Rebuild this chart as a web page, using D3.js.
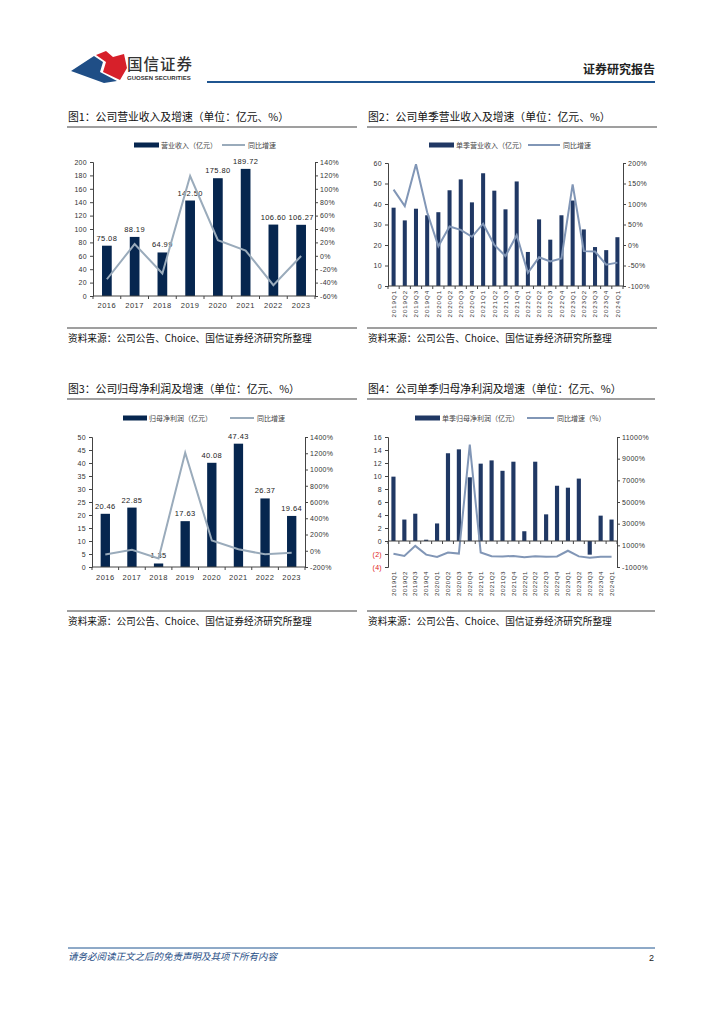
<!DOCTYPE html>
<html>
<head>
<meta charset="utf-8">
<script src="https://cdn.jsdelivr.net/npm/d3@7"></script>
<style>
  body { margin: 0; background: #fff; }
  svg text { font-family: "Liberation Sans", Arial, "Noto Sans CJK SC", sans-serif; }
  .cn { font-family: "Noto Sans CJK SC", sans-serif; }
</style>
</head>
<body>
<svg id="page" width="724" height="1024"></svg>
<script>
// chart 1: annual revenue
const years = ["2016", "2017", "2018", "2019", "2020", "2021", "2022", "2023"];
const revenue = [75.08, 88.19, 64.99, 142.50, 175.80, 189.72, 106.60, 106.27];
const revenueYoY = [-35, 17.5, -26.3, 119, 23.4, 7.9, -43.8, -0.3];

// chart 2: quarterly revenue
const quarters = ["2019Q1", "2019Q2", "2019Q3", "2019Q4", "2020Q1", "2020Q2", "2020Q3", "2020Q4",
  "2021Q1", "2021Q2", "2021Q3", "2021Q4", "2022Q1", "2022Q2", "2022Q3", "2022Q4",
  "2023Q1", "2023Q2", "2023Q3", "2023Q4", "2024Q1"];
const qRevenue = [38.2, 32.0, 37.7, 34.5, 36.0, 46.7, 52.0, 40.8, 55.0, 46.5, 37.4, 51.0,
  16.6, 32.5, 22.6, 34.5, 41.7, 27.6, 19.0, 17.5, 23.8];
const qRevenueYoY = [135, 95, 197, 80, -3, 45, 37, 20, 52, 0, -27, 24,
  -68, -30, -40, -33, 148, -15, -16, -48, -43];

// chart 3: annual net profit
const profit = [20.46, 22.85, 1.35, 17.63, 40.08, 47.43, 26.37, 19.64];
const profitYoY = [-45, 12, -94, 1206, 127, 18, -44, -25];

// chart 4: quarterly net profit
const qProfit = [9.9, 3.3, 4.2, 0.2, 2.7, 13.5, 14.1, 9.8, 11.9, 12.4, 10.8, 12.2,
  1.5, 12.2, 4.1, 8.5, 8.2, 9.6, -2.1, 3.9, 3.3];
const qProfitYoY = [220, 20, 950, 140, -80, 330, 240, 10300, 340, -10, -25, 20,
  -90, -5, -60, -30, 500, -20, -150, -60, -60];

const svg = d3.select("#page");

// Header
const logo = svg.append("g");
logo.append("path")
  .attr("d", "M71,71 L94,56 L103,62 L100,72 L117,81 L104,83 Z")
  .attr("fill", "#1f4e86");
logo.append("path")
  .attr("d", "M96,55 L106,51 L113,57 L124,54 L127,68 L120,80 L103,72 L106,62 Z")
  .attr("fill", "#d7202a");
svg.append("text").attr("class", "cn").attr("x", 127).attr("y", 70)
  .attr("font-size", 15.5).attr("font-weight", 500).attr("fill", "#333")
  .attr("letter-spacing", 1).text("国信证券");
svg.append("text").attr("x", 127).attr("y", 80)
  .attr("font-size", 6).attr("font-weight", "bold").attr("fill", "#333")
  .text("GUOSEN SECURITIES");
svg.append("line").attr("x1", 207).attr("x2", 655).attr("y1", 82).attr("y2", 82)
  .attr("stroke", "#1f5590").attr("stroke-width", 2);
svg.append("text").attr("class", "cn").attr("x", 655).attr("y", 74)
  .attr("text-anchor", "end").attr("font-size", 12).attr("font-weight", "bold")
  .attr("fill", "#222").text("证券研究报告");

// Footer
svg.append("line").attr("x1", 68).attr("x2", 655).attr("y1", 948).attr("y2", 948)
  .attr("stroke", "#1f5590").attr("stroke-width", 1);
svg.append("text").attr("class", "cn").attr("x", 68).attr("y", 960)
  .attr("font-size", 9.5).attr("font-style", "italic").attr("fill", "#1f4e86")
  .text("请务必阅读正文之后的免责声明及其项下所有内容");
svg.append("text").attr("x", 654).attr("y", 961).attr("text-anchor", "end")
  .attr("font-size", 9).attr("fill", "#222").text("2");

function drawChart(cfg) {
  const g = svg.append("g");

  // title and rules
  g.append("text").attr("class", "cn").attr("x", cfg.left).attr("y", cfg.titleY)
    .attr("font-size", 10.8).attr("fill", "#111").text(cfg.title);
  g.append("line").attr("x1", cfg.left - 1).attr("x2", cfg.right)
    .attr("y1", cfg.titleY + 6).attr("y2", cfg.titleY + 6)
    .attr("stroke", "#7f7f7f").attr("stroke-width", 1.5);
  g.append("line").attr("x1", cfg.left - 1).attr("x2", cfg.right)
    .attr("y1", cfg.sourceY).attr("y2", cfg.sourceY)
    .attr("stroke", "#7f7f7f").attr("stroke-width", 1.5);
  g.append("text").attr("class", "cn").attr("x", cfg.left).attr("y", cfg.sourceY + 14)
    .attr("font-size", 9.7).attr("fill", "#111")
    .text("资料来源：公司公告、Choice、国信证券经济研究所整理");

  // legend
  const lg = g.append("g").attr("font-size", 7).attr("fill", "#444");
  lg.append("rect").attr("x", cfg.legend[0]).attr("y", cfg.legendY - 2.5)
    .attr("width", cfg.legend[1] - cfg.legend[0]).attr("height", 5).attr("fill", cfg.barColor);
  lg.append("text").attr("class", "cn").attr("x", cfg.legend[1] + 2).attr("y", cfg.legendY + 2.5)
    .text(cfg.barName);
  lg.append("line").attr("x1", cfg.legend[2]).attr("x2", cfg.legend[3])
    .attr("y1", cfg.legendY).attr("y2", cfg.legendY)
    .attr("stroke", cfg.lineColor).attr("stroke-width", 2);
  lg.append("text").attr("class", "cn").attr("x", cfg.legend[3] + 3).attr("y", cfg.legendY + 2.5)
    .text(cfg.lineName);

  const x = d3.scaleBand().domain(cfg.cats).range([cfg.x0, cfg.x1])
    .paddingInner(cfg.pad).paddingOuter(cfg.pad / 2);
  const y = d3.scaleLinear().domain(cfg.yDomain).range([cfg.yBot, cfg.yTop]);
  const y2 = d3.scaleLinear().domain(cfg.y2Domain).range([cfg.yBot, cfg.yTop]);

  // bars
  g.selectAll(".bar").data(cfg.bars).enter().append("rect")
    .attr("x", (d, i) => x(cfg.cats[i]))
    .attr("width", x.bandwidth())
    .attr("y", d => y(Math.max(0, d)))
    .attr("height", d => Math.abs(y(d) - y(0)))
    .attr("fill", cfg.barColor);

  // value labels
  if (cfg.labels) {
    g.selectAll(".lbl").data(cfg.bars).enter().append("text")
      .attr("x", (d, i) => x(cfg.cats[i]) + x.bandwidth() / 2)
      .attr("y", d => y(d) - 5)
      .attr("text-anchor", "middle").attr("font-size", 7.5).attr("fill", "#222")
      .attr("letter-spacing", 0.4)
      .text(d => d.toFixed(2));
  }

  // line
  g.append("path").datum(cfg.line)
    .attr("fill", "none").attr("stroke", cfg.lineColor).attr("stroke-width", 2)
    .attr("d", d3.line().x((d, i) => x(cfg.cats[i]) + x.bandwidth() / 2).y(d => y2(d)));

  // left axis
  const yAxis = g.append("g").attr("transform", `translate(${cfg.x0},0)`)
    .call(d3.axisLeft(y).tickValues(cfg.yTicks).tickSize(3).tickPadding(3)
      .tickFormat(cfg.yFormat || (d => d)));
  // right axis
  const y2Axis = g.append("g").attr("transform", `translate(${cfg.x1},0)`)
    .call(d3.axisRight(y2).tickValues(cfg.y2Ticks).tickSize(3).tickPadding(2)
      .tickFormat(d => d + "%"));
  [yAxis, y2Axis].forEach(a => {
    a.select(".domain").attr("stroke", "#444");
    a.selectAll(".tick line").attr("stroke", "#444");
    a.selectAll("text").attr("font-size", 7).attr("fill", "#333").attr("letter-spacing", 0.3);
  });
  if (cfg.negRed) {
    yAxis.selectAll(".tick text").filter(d => d < 0).attr("fill", "#e02020");
  }

  // x axis
  const zeroY = y(0);
  const xa = g.append("g");
  xa.append("line").attr("x1", cfg.x0).attr("x2", cfg.x1).attr("y1", zeroY).attr("y2", zeroY)
    .attr("stroke", "#444");
  const step = x.step();
  xa.selectAll(".xt").data(d3.range(cfg.cats.length + 1)).enter().append("line")
    .attr("x1", i => cfg.x0 + i * step).attr("x2", i => cfg.x0 + i * step)
    .attr("y1", zeroY).attr("y2", zeroY + 3).attr("stroke", "#444");
  if (cfg.rotate) {
    xa.selectAll(".xl").data(cfg.cats).enter().append("text")
      .attr("transform", d => `translate(${x(d) + x.bandwidth() / 2 + 2.2},${cfg.xLabelY}) rotate(-90)`)
      .attr("text-anchor", "end").attr("font-size", 6.2).attr("fill", "#333")
      .attr("letter-spacing", cfg.xSpacing)
      .text(d => d);
  } else {
    xa.selectAll(".xl").data(cfg.cats).enter().append("text")
      .attr("x", d => x(d) + x.bandwidth() / 2).attr("y", cfg.xLabelY)
      .attr("text-anchor", "middle").attr("font-size", 7.5).attr("fill", "#333")
      .attr("letter-spacing", 0.5)
      .text(d => d);
  }
}

drawChart({
  title: "图1：公司营业收入及增速（单位：亿元、%）",
  left: 68, right: 357, titleY: 121, sourceY: 328,
  legendY: 145, legend: [134, 159, 222, 245],
  barName: "营业收入（亿元）", lineName: "同比增速",
  barColor: "#06264f", lineColor: "#9aabbb",
  cats: years, bars: revenue, line: revenueYoY, labels: true,
  x0: 93, x1: 315, yTop: 162, yBot: 296, pad: 0.65,
  yDomain: [0, 200], yTicks: d3.range(0, 201, 20),
  y2Domain: [-60, 140], y2Ticks: d3.range(-60, 141, 20),
  xLabelY: 308
});

drawChart({
  title: "图2：公司单季营业收入及增速（单位：亿元、%）",
  left: 368, right: 657, titleY: 121, sourceY: 328,
  legendY: 145, legend: [429, 454, 528, 560],
  barName: "单季营业收入（亿元）", lineName: "同比增速",
  barColor: "#203864", lineColor: "#8196b6",
  cats: quarters, bars: qRevenue, line: qRevenueYoY, labels: false,
  x0: 388, x1: 623, yTop: 163, yBot: 286, pad: 0.64,
  yDomain: [0, 60], yTicks: d3.range(0, 61, 10),
  y2Domain: [-100, 200], y2Ticks: d3.range(-100, 201, 50),
  rotate: true, xLabelY: 290, xSpacing: 0.9
});

drawChart({
  title: "图3：公司归母净利润及增速（单位：亿元、%）",
  left: 68, right: 357, titleY: 393, sourceY: 611,
  legendY: 418, legend: [123, 147, 230, 254],
  barName: "归母净利润（亿元）", lineName: "同比增速",
  barColor: "#06264f", lineColor: "#9aabbb",
  cats: years, bars: profit, line: profitYoY, labels: true,
  x0: 92, x1: 305, yTop: 437, yBot: 567, pad: 0.65,
  yDomain: [0, 50], yTicks: d3.range(0, 51, 5),
  y2Domain: [-200, 1400], y2Ticks: d3.range(-200, 1401, 200),
  xLabelY: 580
});

drawChart({
  title: "图4：公司单季归母净利润及增速（单位：亿元、%）",
  left: 368, right: 655, titleY: 393, sourceY: 611,
  legendY: 418, legend: [415, 440, 527, 554],
  barName: "单季归母净利润（亿元）", lineName: "同比增速（%）",
  barColor: "#203864", lineColor: "#8196b6",
  cats: quarters, bars: qProfit, line: qProfitYoY, labels: false,
  x0: 388, x1: 617, yTop: 437, yBot: 567, pad: 0.62,
  yDomain: [-4, 16], yTicks: d3.range(-4, 17, 2),
  yFormat: d => d < 0 ? `(${-d})` : d, negRed: true,
  y2Domain: [-1000, 11000], y2Ticks: d3.range(-1000, 11001, 2000),
  rotate: true, xLabelY: 571, xSpacing: 0.5
});
</script>
</body>
</html>
